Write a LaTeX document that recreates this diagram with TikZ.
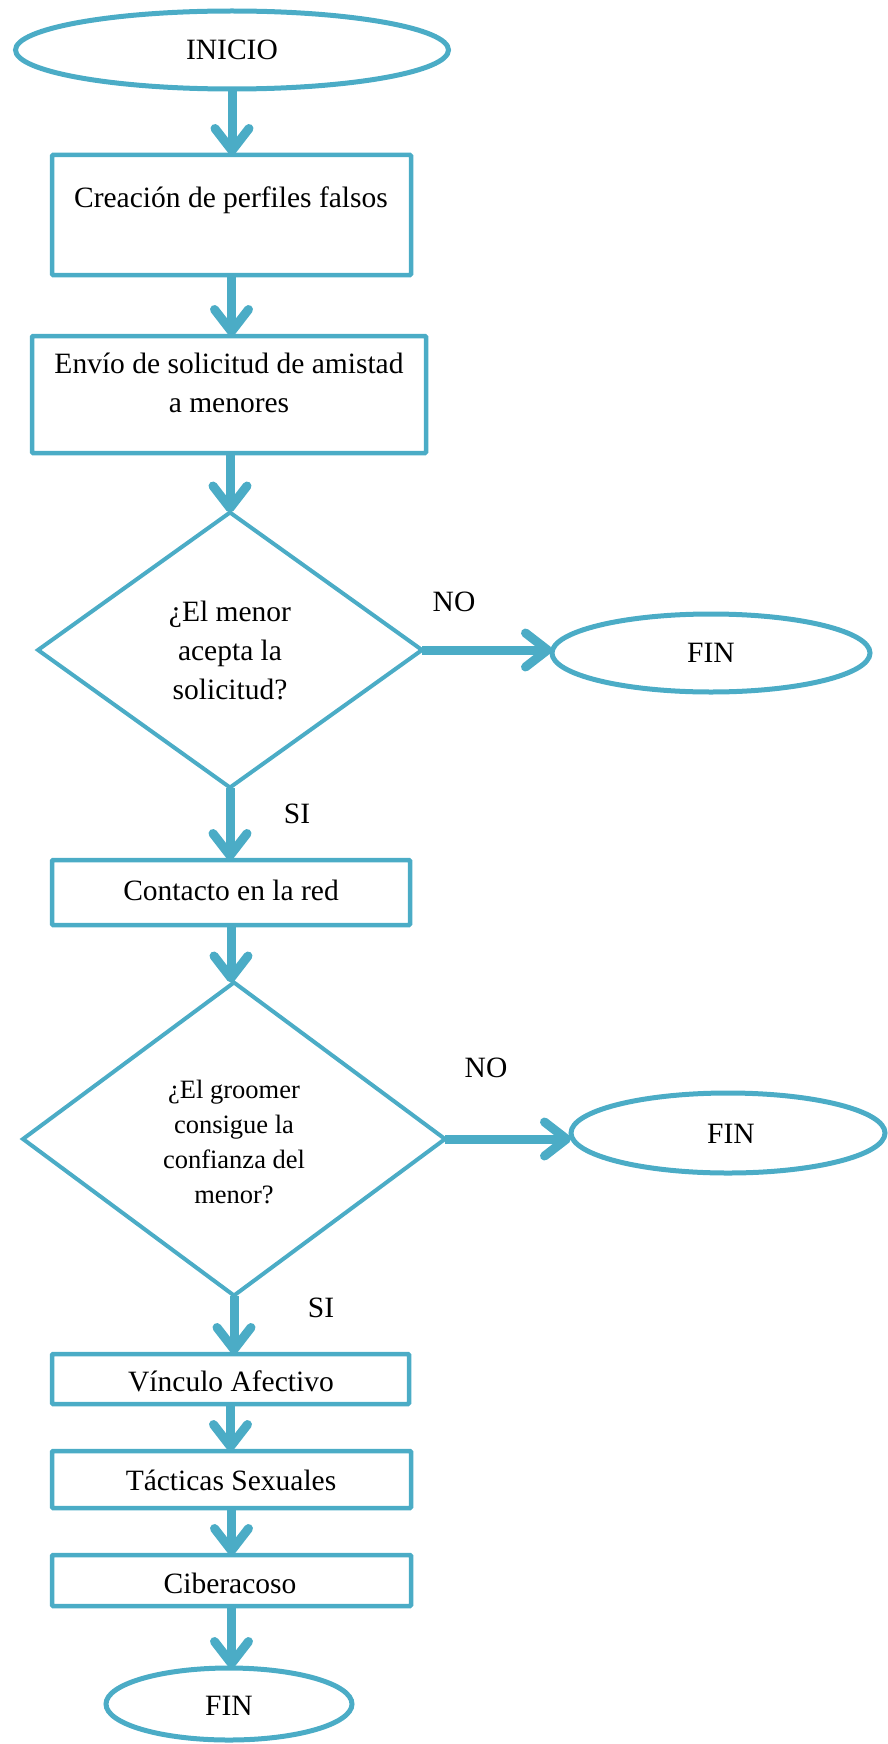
\documentclass[tikz,border=0pt]{standalone}
\usepackage{fontspec}
\setmainfont{Liberation Serif}
\usetikzlibrary{shapes.geometric,arrows.meta}
\definecolor{fc}{RGB}{75,172,198}
\tikzset{
  every node/.style={inner sep=0pt, outer sep=0pt},
  txt/.style={font=\fontsize{29.5}{39}\selectfont, align=center, text=black},
  txtsmall/.style={font=\fontsize{26.5}{35}\selectfont, align=center, text=black},
  term/.style={ellipse, draw=fc, line width=5pt},
  procbox/.style={rectangle, draw=fc, line width=4.5pt, rounded corners=1pt},
  decision/.style={diamond, draw=fc, line width=4pt},
  arr/.style={draw=fc, line width=9pt, -{Straight Barb[length=22pt,width=34pt,round]}},
}
\begin{document}
\begin{tikzpicture}[x=1pt,y=-1pt]
\useasboundingbox (0,0) rectangle (887,1744);
% shapes
\node[term, minimum width=433pt, minimum height=78pt] (inicio) at (232,50) {};
\node[procbox, minimum width=359pt, minimum height=120pt] (box1) at (231.5,215) {};
\node[procbox, minimum width=394pt, minimum height=117pt] (box2) at (229,394.5) {};
\node[decision, minimum width=384pt, minimum height=275pt] (d1) at (230,650) {};
\node[term, minimum width=318pt, minimum height=78pt] (fin1) at (711,653) {};
\node[procbox, minimum width=358pt, minimum height=65pt] (contact) at (231,892.5) {};
\node[decision, minimum width=422pt, minimum height=313pt] (d2) at (234,1139) {};
\node[term, minimum width=314pt, minimum height=80pt] (fin2) at (728,1133) {};
\node[procbox, minimum width=357pt, minimum height=50pt] (vinculo) at (230.5,1379) {};
\node[procbox, minimum width=359pt, minimum height=57pt] (tacticas) at (231.5,1479.5) {};
\node[procbox, minimum width=359pt, minimum height=51pt] (ciber) at (231.5,1580.5) {};
\node[term, minimum width=246pt, minimum height=72pt] (fin3) at (229,1704) {};
% texts
\node[txt] (tinicio) at (232,50) {INICIO};
\node[txt] (tbox1) at (231,200) {Creación de perfiles falsos};
\node[txt] (tbox2) at (229,382.5) {Envío de solicitud de amistad\\a menores};
\node[txt] (td1) at (230,650) {¿El menor\\acepta la\\solicitud?};
\node[txt] (tfin1) at (711,653) {FIN};
\node[txt] (tcontact) at (231,890) {Contacto en la red};
\node[txtsmall] (td2) at (234,1142) {¿El groomer\\consigue la\\confianza del\\menor?};
\node[txt] (tfin2) at (731,1134) {FIN};
\node[txt] (tvinculo) at (231,1381) {Vínculo Afectivo};
\node[txt] (ttacticas) at (231,1480) {Tácticas Sexuales};
\node[txt] (tciber) at (230,1583) {Ciberacoso};
\node[txt] (tfin3) at (229,1706) {FIN};
\node[txt] (no1) at (454,602) {NO};
\node[txt] (si1) at (297,814) {SI};
\node[txt] (no2) at (486,1068) {NO};
\node[txt] (si2) at (321,1308) {SI};
% connectors
\draw[arr] (inicio.south) -- (inicio.south |- box1.north);
\draw[arr] (box1.south) -- (box1.south |- box2.north);
\draw[arr] (box2.south -| d1.north) -- (d1.north);
\draw[arr] (d1.south) -- (d1.south |- contact.north);
\draw[arr] (d1.east) -- (d1.east -| fin1.west);
\draw[arr] (contact.south) -- (contact.south |- d2.north);
\draw[arr] (d2.east) -- (d2.east -| fin2.west);
\draw[arr] (d2.south) -- (d2.south |- vinculo.north);
\draw[arr] (vinculo.south) -- (vinculo.south |- tacticas.north);
\draw[arr] (tacticas.south) -- (tacticas.south |- ciber.north);
\draw[arr] (ciber.south) -- (ciber.south |- fin3.north);
\end{tikzpicture}
\end{document}
